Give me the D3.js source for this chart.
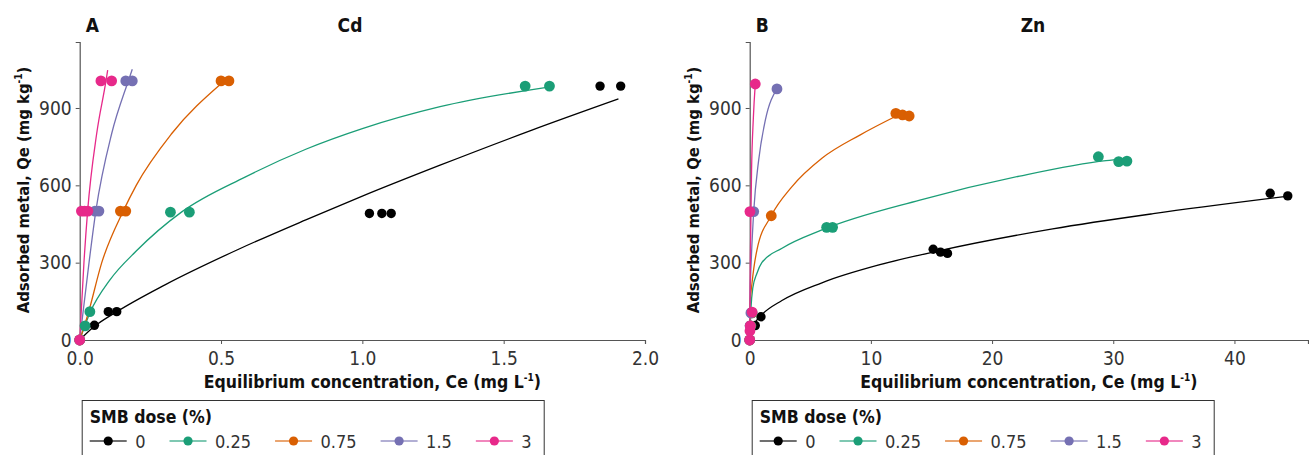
<!DOCTYPE html>
<html>
<head>
<meta charset="utf-8">
<script src="https://cdn.jsdelivr.net/npm/d3@7.9.0/dist/d3.min.js"></script>
<style>
  body { margin: 0; background: #fff; }
  svg { display: block; font-family: "Liberation Sans Narrow", "DejaVu Sans Condensed", "Roboto Condensed", sans-serif; }
  .bold { font-weight: bold; fill: #111; }
</style>
</head>
<body>
<svg id="chart" width="1309" height="455"></svg>
<script>
// SMB doses and colours (Dark2 + black)
const doses = ['0', '0.25', '0.75', '1.5', '3'];
const doseColors = ['#000000', '#1B9E77', '#D95F02', '#7570B3', '#E7298A'];

const yTicks = [0, 300, 600, 900];
const cdTicks = [0, 0.5, 1.0, 1.5, 2.0];
const znTicks = [0, 10, 20, 30, 40];

// Cd observed points [Ce, Qe], one list per dose
const cdObs = [
  [[0, 0], [0.052, 57], [0.101, 110], [0.131, 110], [1.025, 491], [1.069, 491], [1.102, 491], [1.841, 985], [1.914, 985]],
  [[0, 0], [0.019, 55], [0.036, 110], [0.321, 496], [0.388, 496], [1.576, 985], [1.662, 985]],
  [[0, 0], [0.144, 500], [0.163, 500], [0.500, 1005], [0.528, 1005]],
  [[0, 0], [0.054, 500], [0.068, 500], [0.163, 1005], [0.186, 1005]],
  [[0, 0], [0.006, 500], [0.017, 500], [0.029, 500], [0.075, 1005], [0.113, 1005]]
];

// Cd fitted curves
const cdFit = [
  [[0, 0], [0.05, 51], [0.13, 109], [0.3, 213], [0.566, 354], [0.8, 466], [1.0, 558], [1.275, 678], [1.6, 814], [1.906, 935]],
  [[0, 0], [0.036, 105], [0.107, 233], [0.2, 345], [0.361, 497], [0.585, 632], [0.8, 740], [1.0, 820], [1.275, 905], [1.664, 982]],
  [[0, 0], [0.03, 103], [0.078, 300], [0.154, 500], [0.2, 600], [0.325, 800], [0.502, 996]],
  [[0, 0], [0.033, 300], [0.057, 500], [0.113, 800], [0.172, 1005], [0.186, 1050]],
  [[0, 0], [0.015, 300], [0.028, 500], [0.06, 800], [0.093, 1005], [0.099, 1047]]
];

// Zn observed points
const znObs = [
  [[0, 0], [0.46, 56], [0.93, 90], [15.14, 352], [15.74, 341], [16.32, 336], [42.95, 569], [44.4, 559]],
  [[0, 0], [0.1, 55], [0.2, 105], [6.35, 437], [6.84, 437], [28.77, 711], [30.45, 692], [31.13, 694]],
  [[0, 0], [0.05, 55], [0.15, 105], [1.78, 482], [12.06, 879], [12.61, 873], [13.16, 869]],
  [[0, 0], [0.03, 55], [0.1, 105], [0.33, 498], [2.25, 974]],
  [[0, 0], [0.02, 35], [0.05, 55], [0.2, 108], [0.02, 498], [0.46, 993]]
];

// Zn fitted curves
const znFit = [
  [[0, 0], [0.2, 46], [0.46, 69], [0.93, 95], [2.66, 153], [5.96, 222], [10.74, 292], [15.5, 345], [25.0, 431], [33.3, 490], [44.3, 557]],
  [[0, 0], [0.1, 120], [0.25, 200], [0.6, 259], [1.0, 300], [2.67, 356], [5.96, 427], [14.04, 543], [22.28, 636], [29.4, 696], [30.9, 703]],
  [[0, 0], [0.05, 150], [0.19, 220], [0.6, 350], [1.78, 482], [3.49, 595], [5.96, 705], [9.09, 795], [12.06, 868]],
  [[0, 0], [0.05, 200], [0.13, 310], [0.33, 498], [0.74, 698], [1.29, 853], [2.25, 974]],
  [[0, 0], [0.05, 300], [0.15, 650], [0.3, 860], [0.46, 993]]
];

const svg = d3.select('#chart');

function drawPanel(opt) {
  const x = d3.scaleLinear().domain(opt.xDomain).range([opt.left, opt.right]);
  const y = d3.scaleLinear().domain([0, 1156]).range([340, 42]);
  const g = svg.append('g');

  // axes
  const yAxis = g.append('g')
    .attr('transform', `translate(${opt.left},0)`)
    .call(d3.axisLeft(y).tickValues(yTicks).tickSize(4).tickPadding(4));
  const xAxis = g.append('g')
    .attr('transform', 'translate(0,340)')
    .call(d3.axisBottom(x).tickValues(opt.xTicks).tickFormat(opt.xFormat).tickSize(4).tickPadding(4));
  [yAxis, xAxis].forEach(a => {
    a.attr('font-family', null).attr('font-size', 19);
    a.select('.domain').attr('stroke', '#555').attr('stroke-width', 1.2);
    a.selectAll('.tick line').attr('stroke', '#555');
    a.selectAll('.tick text').attr('fill', '#333');
  });
  xAxis.selectAll('.tick text').attr('dy', '0.9em');

  const line = d3.line().x(d => x(d[0])).y(d => y(d[1])).curve(d3.curveMonotoneX);

  doses.forEach((dose, i) => {
    g.append('path')
      .datum(opt.fit[i])
      .attr('d', line)
      .attr('fill', 'none')
      .attr('stroke', doseColors[i])
      .attr('stroke-width', 1.3);
  });
  doses.forEach((dose, i) => {
    g.append('g').selectAll('circle')
      .data(opt.obs[i])
      .join('circle')
      .attr('cx', d => x(d[0]))
      .attr('cy', d => y(d[1]))
      .attr('r', i === 0 ? 4.7 : 5.4)
      .attr('fill', doseColors[i]);
  });

  // titles
  g.append('text').attr('class', 'bold').attr('x', opt.left + 6).attr('y', 32)
    .attr('font-size', 19).text(opt.tag);
  g.append('text').attr('class', 'bold').attr('x', opt.titleX).attr('y', 32)
    .attr('font-size', 19).attr('text-anchor', 'middle').text(opt.metal);

  const yl = g.append('text').attr('class', 'bold')
    .attr('transform', `translate(${opt.left - 51},190) rotate(-90)`)
    .attr('text-anchor', 'middle').attr('font-size', 16.5);
  yl.append('tspan').text('Adsorbed metal, Qe (mg kg');
  yl.append('tspan').attr('font-size', 10).attr('dy', -7).text('-1');
  yl.append('tspan').attr('dy', 7).text(')');

  const xl = g.append('text').attr('class', 'bold')
    .attr('x', (opt.left + opt.right) / 2 - opt.xlShift).attr('y', 388)
    .attr('text-anchor', 'middle').attr('font-size', 17.5);
  xl.append('tspan').text('Equilibrium concentration, Ce (mg L');
  xl.append('tspan').attr('font-size', 10).attr('dy', -7).text('-1');
  xl.append('tspan').attr('dy', 7).text(')');

  // legend
  const lg = g.append('g');
  lg.append('rect').attr('x', opt.left + 2.5).attr('y', 400.5)
    .attr('width', opt.legendW).attr('height', 80)
    .attr('fill', 'none').attr('stroke', '#333').attr('stroke-width', 1);
  lg.append('text').attr('class', 'bold').attr('x', opt.left + 10).attr('y', 423)
    .attr('font-size', 17.5).text('SMB dose (%)');
  let cx = opt.left + 10;
  doses.forEach((dose, i) => {
    lg.append('line').attr('x1', cx).attr('x2', cx + 37).attr('y1', 441).attr('y2', 441)
      .attr('stroke', doseColors[i]).attr('stroke-opacity', 0.75).attr('stroke-width', 1.6);
    lg.append('circle').attr('cx', cx + 18.5).attr('cy', 441).attr('r', 4.6).attr('fill', doseColors[i]);
    const t = lg.append('text').attr('x', cx + 45.5).attr('y', 448)
      .attr('font-size', 18).attr('fill', '#333').text(dose);
    cx += 45.5 + t.node().getComputedTextLength() + 24;
  });
}

drawPanel({
  left: 79.7, right: 645, xDomain: [0, 2.0], xTicks: cdTicks, xFormat: d3.format('.1f'),
  obs: cdObs, fit: cdFit, tag: 'A', metal: 'Cd', titleX: 350, legendW: 462, xlShift: -10
});
drawPanel({
  left: 749.7, right: 1308, xDomain: [0, 46.07], xTicks: znTicks, xFormat: d3.format('d'),
  obs: znObs, fit: znFit, tag: 'B', metal: 'Zn', titleX: 1033, legendW: 462, xlShift: 0
});
</script>
</body>
</html>
